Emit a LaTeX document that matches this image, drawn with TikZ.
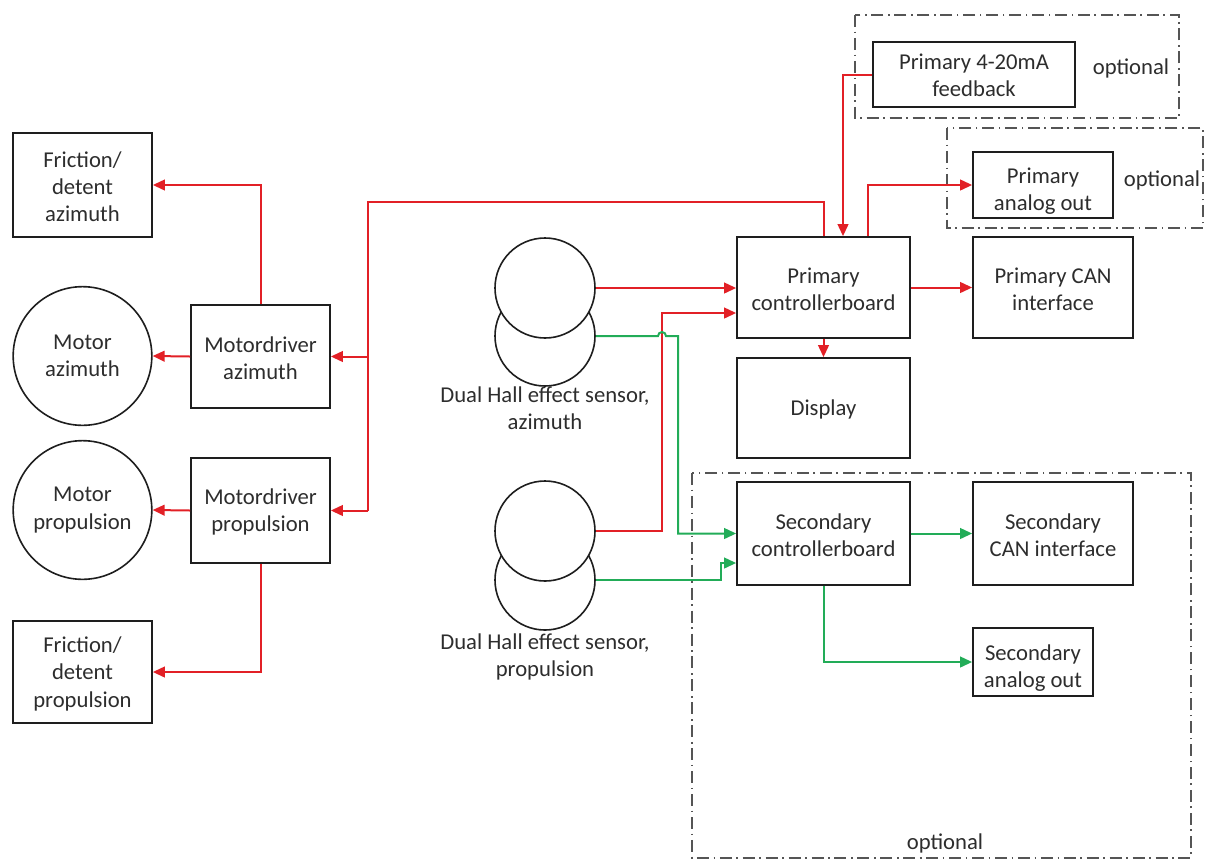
\documentclass[tikz,border=0pt]{standalone}
\usepackage{fontspec}
\setmainfont{Carlito}
\usetikzlibrary{arrows.meta,fit,calc}
\definecolor{wire}{RGB}{226,32,38}
\definecolor{wiregreen}{RGB}{34,172,88}
\definecolor{ink}{RGB}{30,30,30}
\definecolor{txt}{RGB}{45,45,45}
\definecolor{optgray}{RGB}{85,85,85}
\begin{document}
\begin{tikzpicture}[x=0.75pt,y=-0.75pt,
  font=\fontsize{17}{20.5}\selectfont,
  every node/.style={text=txt},
  blk/.style={draw=ink, line width=1.3pt, inner sep=0pt},
  inner/.style={align=center, yshift=-1.25pt},
  smallinner/.style={align=center, yshift=-4.5pt},
  round/.style={circle, draw=ink, line width=1.2pt, minimum size=104pt, inner sep=0pt, align=center},
  hall/.style={circle, draw=ink, line width=1.2pt, fill=white, minimum size=75pt, inner sep=0pt},
  redline/.style={draw=wire, line width=1.5pt},
  greenline/.style={draw=wiregreen, line width=1.5pt},
  tip/.style={-{Triangle[length=9pt,width=8pt]}},
  optbox/.style={draw=optgray, line width=1.6pt, dash pattern=on 9pt off 3.5pt on 1.2pt off 3.5pt}
]
\useasboundingbox (0,0) rectangle (1206,861);

% optional groups
\draw[optbox] (855,15) rectangle (1179,118);
\draw[optbox] (947,128) rectangle (1203,228);
\draw[optbox] (692,473) rectangle (1191,858);
\node (opt1) at (1131,68) {optional};
\node (opt2) at (1162,180) {optional};
\node (opt3) at (945,843) {optional};

% left side: motors, drivers, friction
\node[blk, fit={(13,133) (152,237)}, label={[inner]center:{Friction/\\detent\\azimuth}}] (fa) {};
\node[round] (ma) at (82.5,356) {Motor\\azimuth};
\node[blk, fit={(191,305) (330,408)}, label={[inner]center:{Motordriver\\azimuth}}] (mda) {};
\node[round] (mp) at (82.5,510) {Motor\\propulsion};
\node[blk, fit={(191,458) (330,563)}, label={[inner]center:{Motordriver\\propulsion}}] (mdp) {};
\node[blk, fit={(13,621) (152,723)}, label={[inner]center:{Friction/\\detent\\propulsion}}] (fp) {};

% hall effect sensor pairs
\node[hall] (hs1b) at (545,336) {};
\node[hall] (hs1a) at (545,288) {};
\node[align=center] (hs1l) at (545,408) {Dual Hall effect sensor,\\azimuth};
\node[hall] (hs2b) at (545,580) {};
\node[hall] (hs2a) at (545,531) {};
\node[align=center] (hs2l) at (545,657) {Dual Hall effect sensor,\\propulsion};

% controller column
\node[blk, fit={(737,237) (910,338)}, label={[inner]center:{Primary\\controllerboard}}] (pc) {};
\node[blk, fit={(737,358) (910,458)}, label={[inner]center:{Display}}] (disp) {};
\node[blk, fit={(737,482) (910,585)}, label={[inner]center:{Secondary\\controllerboard}}] (sc) {};
\node[blk, fit={(973,237) (1133,338)}, label={[inner]center:{Primary CAN\\interface}}] (pcan) {};
\node[blk, fit={(973,482) (1133,585)}, label={[inner]center:{Secondary\\CAN interface}}] (scan) {};
\node[blk, fit={(973,628) (1093,696)}, label={[smallinner]center:{Secondary\\analog out}}] (sao) {};
\node[blk, fit={(973,152) (1113,218)}, label={[smallinner]center:{Primary\\analog out}}] (pao) {};
\node[blk, fit={(873,42) (1075,107)}, label={[inner,yshift=0.5pt]center:{Primary 4-20mA\\feedback}}] (pfb) {};

% bend points
\coordinate (bus) at (368,202);
\coordinate (pcfb) at ($(pc.north)+(19.5,0)$);
\coordinate (pcao) at ($(pc.north)+(44.5,0)$);
\coordinate (pcin2) at ($(pc.west)+(0,25.5)$);
\coordinate (scin2) at ($(sc.west)+(0,29.5)$);
\coordinate (rj) at (662,313);
\coordinate (gj) at (678,336);
\coordinate (gk) at (721,580);

% primary controller outputs (red)
\draw[redline] (pc.north) |- (bus) -- (bus |- mdp.east);
\draw[redline,tip] (bus |- mda.east) -- (mda.east);
\draw[redline,tip] (bus |- mdp.east) -- (mdp.east);
\draw[redline,tip] (mda.west) -- (ma.east);
\draw[redline,tip] (mdp.west) -- (mp.east);
\draw[redline,tip] (mda.north) |- (fa.east);
\draw[redline,tip] (mdp.south) |- (fp.east);
\draw[redline,tip] (pfb.west) -| (pcfb);
\draw[redline,tip] (pcao) |- (pao.west);
\draw[redline,tip] (pc.east) -- (pcan.west);
\draw[redline,tip] (pc.south) -- (disp.north);

% primary sensor channels (red)
\draw[redline,tip] (hs1a.east) -- (hs1a.east -| pc.west);
\draw[redline,tip] (hs2a.east) -| (rj) -- (pcin2);

% secondary sensor channels (green)
\draw[greenline,tip] (hs1b.east) -- ($(rj |- gj)+(-4,0)$)
  arc[start angle=180, end angle=0, radius=3pt] -- (gj) |- (sc.west);
\draw[greenline,tip] (hs2b.east) -- (gk) |- (scin2);

% secondary controller outputs (green)
\draw[greenline,tip] (sc.east) -- (scan.west);
\draw[greenline,tip] (sc.south) |- (sao.west);
\end{tikzpicture}
\end{document}
